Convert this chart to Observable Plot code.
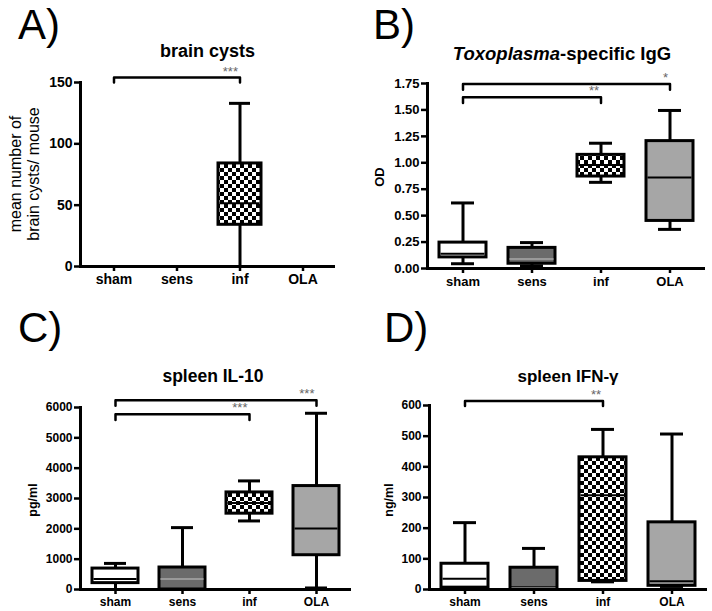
<!DOCTYPE html>
<html><head><meta charset="utf-8">
<script src="https://cdn.jsdelivr.net/npm/d3@7"></script>
<script src="https://cdn.jsdelivr.net/npm/@observablehq/plot@0.6"></script>
<style>
body{margin:0;background:#fff;}
#root{position:relative;width:712px;height:611px;overflow:hidden;background:#fff;}
#root > .panel{position:absolute;}
#overlay{position:absolute;left:0;top:0;pointer-events:none;}
</style></head>
<body>
<svg width="0" height="0" style="position:absolute;left:0;top:0">
 <defs>
  <pattern id="checker" width="8" height="8" patternUnits="userSpaceOnUse">
    <rect width="8" height="8" fill="#fff"/>
    <rect width="4" height="4" fill="#000"/>
    <rect x="4" y="4" width="4" height="4" fill="#000"/>
  </pattern>
 </defs>
</svg>
<div id="root"></div>
<script>
// ---------- data ----------
const groups = ["sham", "sens", "inf", "OLA"];
// per group: [min, q1, median, q3, max]
const cystStats = [null, null, [0, 34, 51.5, 84, 133], null];
const iggStats  = [[0.045, 0.105, 0.14, 0.245, 0.62], [0.025, 0.045, 0.09, 0.195, 0.245], [0.815, 0.87, 0.98, 1.075, 1.185], [0.37, 0.45, 0.86, 1.205, 1.495]];
const il10Stats = [[0, 210, 350, 690, 860], [0, 0, 350, 725, 2040], [2260, 2500, 2850, 3200, 3580], [50, 1130, 2010, 3410, 5810]];
const ifnStats  = [[0, 6, 35, 84, 218], [0, 4, 4, 71, 134], [25, 28, 307, 431, 522], [10, 12, 27, 219, 507]];

const cystTicks = [0, 50, 100, 150];
const iggTicks  = [0, 0.25, 0.5, 0.75, 1, 1.25, 1.5, 1.75];
const il10Ticks = [0, 1000, 2000, 3000, 4000, 5000, 6000];
const ifnTicks  = [0, 100, 200, 300, 400, 500, 600];

const cystBrackets = [{from: "sham", to: "inf", y: 154, end: 150, label: "***"}];
const iggBrackets  = [{from: "sham", to: "inf", y: 1.62, end: 1.565, label: "**"}, {from: "sham", to: "OLA", y: 1.745, end: 1.69, label: "*"}];
const il10Brackets = [{from: "sham", to: "inf", y: 5780, end: 5590, label: "***"}, {from: "sham", to: "OLA", y: 6240, end: 6060, label: "***"}];
const ifnBrackets  = [{from: "sham", to: "inf", y: 615, end: 598, label: "**"}];

// ---------- styles ----------
const boxFills = ["#ffffff", "#6b6b6b", "url(#checker)", "#a6a6a6"];
const medianStrokes = ["#000", "#999", "#000", "#000"];
const FONT = "'Liberation Sans', Arial, sans-serif";

function panel(stats, ticks, brackets, fmt, cfg) {
  const rows = groups.map((g, i) => stats[i] ? {group: g, min: stats[i][0], q1: stats[i][1], median: stats[i][2], q3: stats[i][3], max: stats[i][4], med: medianStrokes[i]} : null).filter(Boolean);
  const path = brackets.flatMap((b, k) => [
    {k, x: b.from, y: b.end}, {k, x: b.from, y: b.y}, {k, x: b.to, y: b.y}, {k, x: b.to, y: b.end}
  ]);
  const fig = Plot.plot({
    width: cfg.width, height: cfg.height,
    marginLeft: cfg.ml, marginRight: cfg.mr, marginTop: cfg.mt, marginBottom: cfg.mb,
    x: {domain: groups, paddingInner: 0.32, paddingOuter: 0.16},
    y: {domain: [0, ticks[ticks.length - 1]]},
    color: {domain: groups, range: boxFills},
    style: {fontFamily: FONT, background: "transparent", overflow: "visible", color: "black"},
    marks: [
      Plot.axisY({ticks, tickSize: 6, tickPadding: 2, tickFormat: fmt, fontWeight: "bold", fontSize: cfg.fs, strokeWidth: 2.5, label: null}),
      Plot.axisX({tickSize: 5, tickPadding: 3, fontWeight: "bold", fontSize: cfg.fs, strokeWidth: 2.5, label: null}),
      Plot.ruleX(rows, {x: "group", y1: "min", y2: "q1", strokeWidth: 3}),
      Plot.ruleX(rows, {x: "group", y1: "q3", y2: "max", strokeWidth: 3}),
      Plot.tickY(rows, {x: "group", y: "min", strokeWidth: 3, insetLeft: cfg.cap, insetRight: cfg.cap}),
      Plot.tickY(rows, {x: "group", y: "max", strokeWidth: 3, insetLeft: cfg.cap, insetRight: cfg.cap}),
      Plot.barY(rows, {x: "group", y1: "q1", y2: "q3", fill: "group", stroke: "black", strokeWidth: 3}),
      Plot.tickY(rows, {x: "group", y: "median", stroke: "med", strokeWidth: 2, insetLeft: 1.5, insetRight: 1.5}),
      Plot.ruleY([0], {strokeWidth: 3}),
      Plot.frame({anchor: "left", strokeWidth: 3}),
      Plot.line(path, {x: "x", y: "y", z: "k", strokeWidth: 2.5}),
      Plot.text(brackets, {x: "to", y: "y", text: "label", textAnchor: "end", lineAnchor: "bottom", dx: -2, dy: -2, fill: "#666", fontSize: 13})
    ]
  });
  fig.classList.add("panel");
  fig.style.left = cfg.left + "px";
  fig.style.top = cfg.top + "px";
  document.getElementById("root").appendChild(fig);
}

const f0 = d3.format("d"), f2 = d3.format(".2f");
panel(cystStats, cystTicks, cystBrackets, f0, {left: 0, top: 60, width: 345, height: 238, ml: 80, mr: 10, mt: 22, mb: 32, fs: 14, cap: 11});
panel(iggStats, iggTicks, iggBrackets, f2, {left: 356, top: 60, width: 356, height: 238, ml: 71, mr: 7, mt: 23, mb: 30, fs: 13, cap: 12});
panel(il10Stats, il10Ticks, il10Brackets, f0, {left: 0, top: 385, width: 356, height: 226, ml: 80, mr: 5, mt: 22, mb: 22, fs: 12, cap: 12});
panel(ifnStats, ifnTicks, ifnBrackets, f0, {left: 356, top: 385, width: 356, height: 226, ml: 73, mr: 5, mt: 20, mb: 22, fs: 12, cap: 12});

// ---------- annotations: panel letters, titles, y labels ----------
const ns = "http://www.w3.org/2000/svg";
const ov = document.createElementNS(ns, "svg");
ov.setAttribute("id", "overlay");
ov.setAttribute("width", 712); ov.setAttribute("height", 611);
ov.innerHTML = `
<g font-family="${FONT}" font-size="42" fill="#000">
  <text x="18" y="39">A)</text>
  <text x="373" y="39">B)</text>
  <text x="18" y="342">C)</text>
  <text x="384" y="342">D)</text>
</g>
<g font-family="${FONT}" font-weight="bold" fill="#000" text-anchor="middle">
  <text x="207.5" y="57" font-size="18">brain cysts</text>
  <text x="562" y="60" font-size="18.5"><tspan font-style="italic">Toxoplasma</tspan>-specific IgG</text>
  <text x="213" y="382" font-size="17.5">spleen IL-10</text>
  <text x="568" y="382" font-size="17">spleen IFN-γ</text>
</g>
<g font-family="${FONT}" fill="#000" text-anchor="middle">
  <text transform="translate(20.5,174) rotate(-90)" font-size="16">mean number of</text>
  <text transform="translate(38.5,174) rotate(-90)" font-size="16">brain cysts/ mouse</text>
  <text transform="translate(384,177) rotate(-90)" font-size="13" font-weight="bold">OD</text>
  <text transform="translate(37,500) rotate(-90)" font-size="12.5" font-weight="bold">pg/ml</text>
  <text transform="translate(393,500) rotate(-90)" font-size="12.5" font-weight="bold">ng/ml</text>
</g>`;
document.getElementById("root").appendChild(ov);
</script>
</body></html>
